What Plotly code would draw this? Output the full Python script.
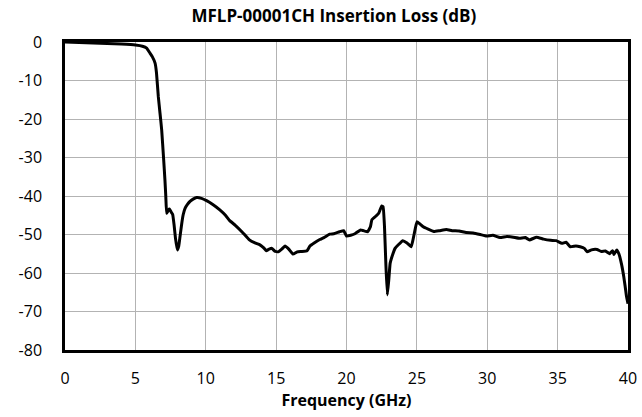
import plotly.graph_objects as go

freq_ghz = [0.0, 1.0, 2.0, 3.0, 4.0, 5.0, 5.5, 5.8, 6.04, 6.2, 6.4, 6.5, 6.63, 6.75, 6.87, 7.0, 7.1, 7.16, 7.22, 7.3, 7.4, 7.46, 7.55, 7.65, 7.75, 7.85, 7.98, 8.08, 8.17, 8.3, 8.4, 8.53, 8.7, 8.88, 9.1, 9.35, 9.7, 10.06, 10.5, 11.0, 11.4, 11.7, 12.1, 12.6, 13.1, 13.5, 13.85, 14.1, 14.3, 14.5, 14.7, 14.9, 15.15, 15.4, 15.63, 15.9, 16.2, 16.5, 16.8, 17.2, 17.4, 17.7, 18.1, 18.4, 18.8, 19.1, 19.5, 19.8, 20.0, 20.3, 20.6, 21.0, 21.2, 21.5, 21.7, 21.8, 22.1, 22.3, 22.5, 22.6, 22.7, 22.8, 22.9, 23.0, 23.1, 23.3, 23.45, 23.7, 24.0, 24.3, 24.6, 24.8, 25.0, 25.2, 25.45, 25.8, 26.2, 26.6, 27.1, 27.5, 28.0, 28.5, 29.0, 29.5, 29.95, 30.4, 30.9, 31.4, 31.85, 32.3, 32.7, 33.0, 33.5, 34.0, 34.5, 34.9, 35.3, 35.6, 35.9, 36.3, 36.6, 36.9, 37.1, 37.4, 37.8, 38.1, 38.4, 38.7, 38.9, 39.0, 39.2, 39.35, 39.55, 39.7, 39.8, 39.9, 40.0]
insertion_loss_db = [0.0, -0.1, -0.25, -0.4, -0.55, -0.8, -1.1, -1.6, -2.9, -3.8, -5.5, -8.0, -14.2, -18.5, -22.9, -30.0, -35.8, -40.0, -44.5, -44.0, -43.4, -43.6, -44.2, -44.8, -47.5, -51.0, -54.0, -53.0, -50.6, -47.0, -44.8, -43.2, -42.2, -41.4, -40.8, -40.4, -40.6, -41.2, -42.2, -43.6, -45.0, -46.4, -47.6, -49.4, -51.4, -52.2, -52.7, -53.4, -54.2, -53.8, -53.6, -54.3, -54.5, -53.8, -53.0, -53.8, -55.1, -54.5, -54.4, -54.2, -53.0, -52.2, -51.3, -50.8, -49.9, -49.8, -49.3, -49.0, -50.4, -50.2, -49.8, -48.8, -49.0, -49.3, -48.0, -46.2, -45.2, -44.4, -42.6, -42.8, -48.0, -58.0, -65.7, -62.0, -57.5, -55.0, -53.6, -52.6, -51.6, -52.2, -53.2, -50.0, -46.7, -47.2, -48.0, -48.6, -49.2, -49.0, -48.7, -49.0, -49.1, -49.5, -49.6, -50.0, -50.4, -50.2, -50.8, -50.5, -50.7, -51.0, -50.8, -51.4, -50.7, -51.2, -51.5, -51.6, -52.3, -52.0, -53.2, -53.0, -53.2, -53.6, -54.5, -54.0, -53.9, -54.4, -54.3, -55.0, -54.2, -55.2, -54.0, -55.0, -57.9, -61.0, -63.5, -66.2, -68.0]

x_ticks = [0, 5, 10, 15, 20, 25, 30, 35, 40]
y_ticks = [0, -10, -20, -30, -40, -50, -60, -70, -80]

fig = go.Figure()
fig.add_trace(go.Scatter(
    x=freq_ghz, y=insertion_loss_db, mode="lines",
    line=dict(color="black", width=3, shape="spline", smoothing=0.3),
    showlegend=False, hoverinfo="skip"))

fig.update_layout(
    width=642, height=417,
    margin=dict(l=65, r=14, t=42, b=67),
    paper_bgcolor="white", plot_bgcolor="white",
    font=dict(family="Open Sans", color="black", size=16),
    title=dict(text="<b>MFLP-00001CH Insertion Loss (dB)</b>",
               x=0.520, xanchor="center", y=1 - 16.5 / 417, yanchor="middle",
               font=dict(size=17, family="Open Sans", color="black")),
)
fig.update_xaxes(range=[0, 40], tickvals=x_ticks, ticktext=[str(v) for v in x_ticks],
                 showgrid=True, gridcolor="#b3b3b3", gridwidth=1,
                 showline=True, linecolor="black", linewidth=2.5, mirror=True,
                 ticks="", zeroline=False, tickfont=dict(size=16), ticklabelstandoff=12,
                 automargin=False,
                 title=dict(text="<b>Frequency (GHz)</b>", font=dict(size=16), standoff=4))
fig.update_yaxes(range=[-80, 0], tickvals=y_ticks, ticktext=[str(v) for v in y_ticks],
                 showgrid=True, gridcolor="#b3b3b3", gridwidth=1,
                 showline=True, linecolor="black", linewidth=2.5, mirror=True,
                 ticks="", zeroline=False, tickfont=dict(size=16), ticklabelstandoff=17,
                 automargin=False)

fig.write_html("out.html", config={"displayModeBar": False},
               post_script="document.body.style.margin='0';")
